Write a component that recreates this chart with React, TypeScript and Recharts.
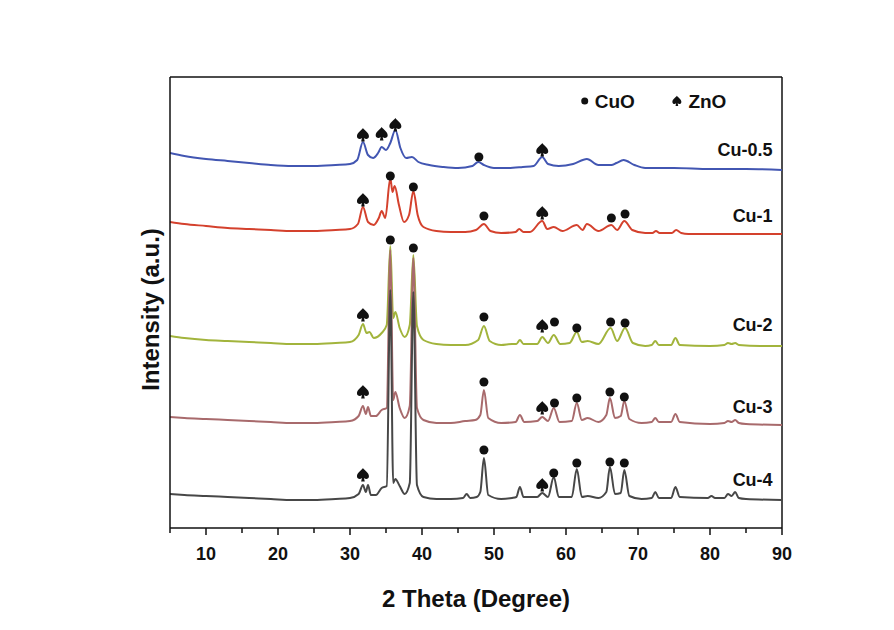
import React from 'react';
import { LineChart, Line, XAxis, YAxis, ReferenceDot, ReferenceLine } from 'recharts';

// [2theta, intensity (a.u., offset included)]
const cu05: number[][] = [
  [5, 375], [7, 372], [10, 369], [13, 367], [16, 365], [19, 363], [22, 362], [25, 362], [28, 363], [30, 364],
  [31, 368], [31.8, 386], [32.5, 373], [33.2, 370], [33.9, 375], [34.4, 381], [35.0, 378], [35.6, 385], [36.3, 398],
  [37.0, 380], [37.8, 370], [38.6, 371], [39.5, 366], [41, 363], [43, 361], [45, 360], [47, 362], [47.8, 366],
  [48.6, 363], [50, 360], [52, 360], [54, 361], [55.5, 362], [56.7, 371], [57.5, 364], [59, 362], [61, 364],
  [62.9, 369], [64.5, 363], [66.3, 363], [67, 365], [68, 368], [69.5, 363], [71, 360], [75, 360], [80, 359],
  [85, 359], [90, 358],
];
const cu1: number[][] = [
  [5, 306], [7, 304], [10, 302], [13, 300], [16, 299], [19, 298], [22, 297], [25, 297], [28, 298], [30, 299],
  [31.1, 304], [31.8, 321], [32.5, 306], [33.3, 303], [34.0, 310], [34.4, 317], [34.9, 310], [35.6, 350], [35.9, 336],
  [36.2, 342], [36.8, 323], [37.5, 306], [38.2, 313], [38.8, 337], [39.4, 313], [40.2, 301], [42, 297], [44, 296],
  [46, 296], [47.5, 298], [48.6, 304], [49.5, 297], [51, 295], [53.0, 296], [53.5, 299], [54.1, 296], [55, 296],
  [56.7, 307], [57.4, 299], [58.3, 301], [59.5, 297], [61.5, 303], [62.3, 298], [62.9, 304], [64.5, 297], [66.3, 303],
  [67.1, 298], [68.1, 307], [69.2, 298], [71, 295], [72.0, 295], [72.5, 297], [73.0, 295], [74.7, 295], [75.3, 298],
  [76, 295], [77, 294], [80, 294], [85, 294], [90, 294],
];
const cu2: number[][] = [
  [5, 192], [7, 190], [10, 188], [13, 187], [16, 186], [19, 185], [22, 184], [25, 184], [28, 185], [30, 186],
  [31.2, 193], [31.8, 204], [32.3, 195], [32.7, 196], [33.3, 190], [34.4, 195], [35.1, 203], [35.6, 282], [36.0, 210],
  [36.3, 216], [36.9, 200], [37.6, 191], [38.3, 203], [38.8, 273], [39.3, 202], [40.2, 188], [42, 184], [44, 183],
  [46, 183], [47.8, 188], [48.6, 202], [49.4, 187], [51, 183], [52.5, 184], [53.1, 184], [53.6, 188], [54.1, 184],
  [56.0, 184], [56.7, 191], [57.5, 185], [58.3, 193], [59.2, 184], [60.5, 185], [61.5, 196], [62.2, 186], [63.0, 187],
  [64.5, 184], [66.2, 200], [67.1, 187], [68.2, 200], [69.3, 185], [71, 182], [71.9, 183], [72.4, 187], [72.9, 183],
  [74.6, 183], [75.2, 190], [75.8, 183], [80, 182], [82, 183], [82.5, 185], [83, 184], [83.5, 185], [84, 183],
  [87, 182], [90, 182],
];
const cu3: number[][] = [
  [5, 111], [7, 110], [10, 109], [13, 108], [16, 107], [19, 106], [22, 105], [25, 105], [28, 106], [30, 107],
  [31.2, 112], [31.8, 122], [32.2, 114], [32.5, 121], [32.9, 112], [33.6, 112], [34.4, 118], [35.1, 120], [35.6, 278],
  [36.0, 128], [36.3, 136], [36.9, 120], [37.6, 110], [38.3, 122], [38.8, 270], [39.3, 120], [40.2, 108], [42, 105],
  [44, 105], [46, 107], [47.4, 108], [48.1, 113], [48.6, 138], [49.2, 110], [51, 105], [53.0, 106], [53.6, 113],
  [54.2, 106], [56, 107], [56.7, 111], [57.5, 107], [58.3, 120], [59.1, 106], [60.8, 107], [61.5, 125], [62.2, 108],
  [63, 110], [64.5, 106], [65.6, 113], [66.1, 130], [66.8, 110], [67.6, 112], [68.1, 127], [68.8, 109], [70.5, 105],
  [71.9, 106], [72.4, 110], [72.9, 106], [74.6, 106], [75.2, 114], [75.8, 106], [80, 104], [82, 105], [82.5, 107],
  [83, 106], [83.5, 108], [84, 105], [85, 104], [90, 103],
];
const cu4: number[][] = [
  [5, 34], [7, 33], [10, 32], [13, 31], [16, 30], [19, 29], [22, 28], [25, 28], [28, 29], [30, 30],
  [31.2, 34], [31.8, 43], [32.2, 36], [32.5, 43], [32.9, 33], [33.6, 33], [34.4, 40], [35.1, 42], [35.6, 238],
  [36.0, 45], [36.3, 49], [36.9, 42], [37.6, 34], [38.3, 45], [38.8, 236], [39.3, 43], [40.2, 31], [42, 29], [44, 29],
  [45.7, 30], [46.2, 34], [46.7, 30], [47.6, 31], [48.1, 36], [48.6, 70], [49.2, 33], [51, 29], [52.5, 30], [53.1, 31],
  [53.6, 41], [54.1, 31], [56, 31], [56.7, 35], [57.5, 31], [58.3, 51], [59.0, 31], [60.8, 31], [61.5, 59], [62.2, 31],
  [63, 32], [64.5, 30], [65.6, 36], [66.1, 61], [66.8, 34], [67.6, 35], [68.1, 58], [68.8, 32], [70.5, 29], [71.9, 30],
  [72.4, 36], [72.9, 30], [74.6, 30], [75.2, 41], [75.8, 31], [79.7, 30], [80.2, 32], [80.7, 30], [82, 30], [82.5, 34],
  [83, 32], [83.5, 36], [84, 30], [85, 29], [90, 28],
];

// phase markers [2theta, height]
const cuoMarks: number[][] = [
  [47.9, 371],
  [35.6, 352], [38.8, 341], [48.6, 312], [66.3, 310], [68.2, 314],
  [35.6, 288], [38.8, 280], [48.6, 211], [58.4, 206], [61.5, 200], [66.2, 206], [68.2, 205],
  [48.6, 146], [58.4, 125], [61.5, 130], [66.1, 136], [68.1, 131],
  [48.6, 78], [58.3, 55], [61.5, 65], [66.1, 66], [68.1, 65],
];
const znoMarks: number[][] = [
  [31.8, 393], [34.4, 394], [36.3, 403], [56.7, 378],
  [31.8, 328], [56.7, 315],
  [31.8, 213], [56.7, 202],
  [31.8, 136], [56.7, 120],
  [31.8, 53], [56.7, 43],
];

const sampleNames = ['Cu-0.5', 'Cu-1', 'Cu-2', 'Cu-3', 'Cu-4'];
const labelPos: number[][] = [[88.7, 378], [88.7, 312], [88.7, 203], [88.7, 121], [88.7, 48]];
const colors = ['#4256b2', '#d4412d', '#a2b43c', '#a86a6c', '#474747'];
const seriesList = [cu05, cu1, cu2, cu3, cu4];

const xTicks = [5, 10, 15, 20, 25, 30, 35, 40, 45, 50, 55, 60, 65, 70, 75, 80, 85, 90];

const FONT = 'Arial, "Liberation Sans", Helvetica, sans-serif';

const spadePath =
  'M0,-7 C1.5,-4.5 6,-2.5 6,1.2 C6,3.8 3,4.8 1,3 L1.8,6.5 L-1.8,6.5 L-1,3 C-3,4.8 -6,3.8 -6,1.2 C-6,-2.5 -1.5,-4.5 0,-7 Z';

const XTick = (props: any) => {
  const { x, y, payload } = props;
  const major = payload.value % 10 === 0;
  return (
    <g>
      <line x1={x} x2={x} y1={y} y2={y + (major ? 7 : 5)} stroke="#111" strokeWidth={1.5} />
      {major && payload.value !== 5 && (
        <text x={x} y={y + 32} textAnchor="middle" fontSize={18} fontWeight="bold" fontFamily={FONT} fill="#111">
          {payload.value}
        </text>
      )}
    </g>
  );
};

const toPts = (arr: number[][]) => arr.map(([x, y]) => ({ x, y }));

export default function App() {
  return (
    <LineChart width={886} height={622} margin={{ top: 69, right: 112, left: 122, bottom: 22 }}>
      <XAxis
        type="number"
        dataKey="x"
        domain={[5, 90]}
        ticks={xTicks}
        interval={0}
        allowDataOverflow
        height={80}
        tickLine={false}
        tickSize={0}
        tickMargin={0}
        tick={<XTick />}
        axisLine={{ stroke: '#111', strokeWidth: 1.5 }}
        label={{
          content: (p: any) => {
            const vb = p.viewBox;
            return (
              <text x={vb.x + vb.width / 2} y={vb.y + 79} textAnchor="middle" fontSize={24} fontWeight="bold" fontFamily={FONT} fill="#111">
                2 Theta (Degree)
              </text>
            );
          },
        }}
      />
      <YAxis
        type="number"
        dataKey="y"
        domain={[0, 451]}
        allowDataOverflow
        width={40}
        tick={false}
        tickLine={false}
        axisLine={{ stroke: '#111', strokeWidth: 1.5 }}
        label={{
          content: (p: any) => {
            const vb = p.viewBox;
            const cx = vb.x + 20;
            const cy = vb.y + vb.height / 2 + 7;
            return (
              <text x={cx} y={cy} transform={`rotate(-90, ${cx}, ${cy})`} textAnchor="middle" dominantBaseline="central" fontSize={24} fontWeight="bold" fontFamily={FONT} fill="#111">
                Intensity (a.u.)
              </text>
            );
          },
        }}
      />
      <ReferenceLine y={451} stroke="#111" strokeWidth={1.5} />
      <ReferenceLine x={90} stroke="#111" strokeWidth={1.5} />
      {seriesList.map((s, i) => (
        <Line
          key={sampleNames[i]}
          data={toPts(s)}
          dataKey="y"
          type="monotone"
          stroke={colors[i]}
          strokeWidth={2}
          dot={false}
          isAnimationActive={false}
        />
      ))}
      {cuoMarks.map(([x, y], i) => (
        <ReferenceDot key={'c' + i} x={x} y={y} r={4.5} fill="#111" stroke="none" ifOverflow="visible" />
      ))}
      {znoMarks.map(([x, y], i) => (
        <ReferenceDot
          key={'z' + i}
          x={x}
          y={y}
          ifOverflow="visible"
          shape={(p: any) => <path transform={`translate(${p.cx},${p.cy})`} d={spadePath} fill="#111" />}
        />
      ))}
      {sampleNames.map((n, i) => (
        <ReferenceDot
          key={'l' + i}
          x={labelPos[i][0]}
          y={labelPos[i][1]}
          ifOverflow="visible"
          shape={(p: any) => (
            <text x={p.cx} y={p.cy} textAnchor="end" dominantBaseline="central" fontSize={18} fontWeight="bold" fontFamily={FONT} fill="#111">
              {n}
            </text>
          )}
        />
      ))}
      <ReferenceDot x={62.6} y={427} r={3.5} fill="#111" stroke="none" ifOverflow="visible" />
      <ReferenceDot
        x={64.0}
        y={427}
        ifOverflow="visible"
        shape={(p: any) => (
          <text x={p.cx} y={p.cy} dominantBaseline="central" fontSize={19} fontWeight="bold" fontFamily={FONT} fill="#111">
            CuO
          </text>
        )}
      />
      <ReferenceDot
        x={75.4}
        y={427}
        ifOverflow="visible"
        shape={(p: any) => <path transform={`translate(${p.cx},${p.cy}) scale(0.75)`} d={spadePath} fill="#111" />}
      />
      <ReferenceDot
        x={77.0}
        y={427}
        ifOverflow="visible"
        shape={(p: any) => (
          <text x={p.cx} y={p.cy} dominantBaseline="central" fontSize={19} fontWeight="bold" fontFamily={FONT} fill="#111">
            ZnO
          </text>
        )}
      />
    </LineChart>
  );
}
